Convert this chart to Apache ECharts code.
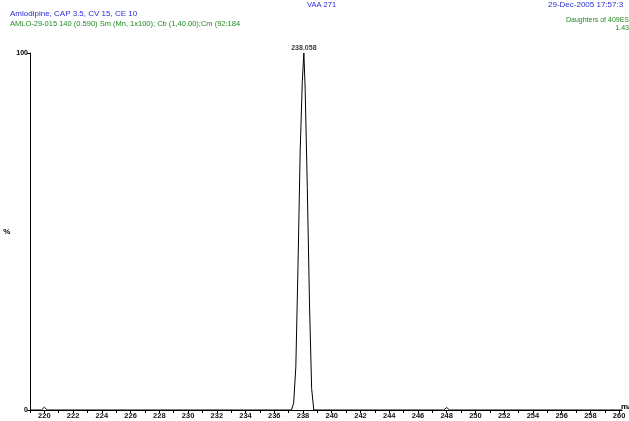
<!DOCTYPE html>
<html><head><meta charset="utf-8">
<script src="https://cdn.jsdelivr.net/npm/echarts@6/dist/echarts.min.js"></script>
<style>html,body{margin:0;padding:0;background:#fff}#c{width:629px;height:421px}</style>
</head><body><div id="c"></div>
<script>
// m/z values and relative intensities (%)
const mz = [219.0, 219.8, 219.9, 220.0, 220.1, 220.2, 237.2, 237.35, 237.5, 237.65, 237.8, 237.95, 238.06, 238.15, 238.3, 238.45, 238.6, 238.75, 247.8, 247.9, 248.0, 248.1, 248.2, 260.2];
const intensity = [0, 0, 0.4, 0.8, 0.4, 0, 0, 2, 12, 40, 72, 92, 100, 90, 62, 30, 6, 0, 0, 0.4, 0.7, 0.4, 0, 0];
const peakMz = [238.06];
const peakIntensity = [100];
const peakLabels = ['238.058'];
const xTickValues = [];
for (let v = 219; v <= 260; v++) xTickValues.push(v);
const xLabelValues = [220, 222, 224, 226, 228, 230, 232, 234, 236, 238, 240, 242, 244, 246, 248, 250, 252, 254, 256, 258, 260];
const yLabelValues = [0, 100];

const blue = '#2a2ad8', green = '#1f8a1f';
const F = 'Liberation Sans';
const t = (text, pos, size, color, weight) => Object.assign({text, padding: 0, textStyle: {fontSize: size, color, fontWeight: weight || 'normal', fontFamily: F}}, pos);

const chart = echarts.init(document.getElementById('c'), null, {renderer: 'canvas'});
chart.setOption({
  animation: false,
  backgroundColor: '#fff',
  textStyle: {fontFamily: F},
  title: [
    t('VAA 271', {left: 307, top: 1}, 7.5, blue),
    t('29-Dec-2005 17:57:3', {left: 548, top: 1}, 8, blue),
    t('Amlodipine, CAP 3.5, CV 15, CE 10', {left: 10, top: 10}, 8, blue),
    t('AMLO-29-015 140 (0.590) Sm (Mn, 1x100); Cb (1,40.00);Cm (92:184', {left: 10, top: 20}, 7.5, green),
    t('Daughters of 409ES', {right: 0, top: 17}, 7, green),
    t('1.43', {right: 0, top: 25}, 7, green),
    t('m/', {left: 621, top: 403}, 8, '#000', 'bold')
  ],
  grid: {left: 30, right: 7, top: 53, bottom: 11, containLabel: false},
  xAxis: {
    type: 'value', min: 219, max: 260.2,
    axisLine: {show: true, lineStyle: {color: '#000', width: 1}},
    axisTick: {show: true, length: 3, customValues: xTickValues, lineStyle: {color: '#000'}},
    axisLabel: {show: true, customValues: xLabelValues, fontSize: 7.5, fontWeight: 'bold', color: '#111', margin: 2, fontFamily: F},
    splitLine: {show: false}
  },
  yAxis: {
    type: 'value', min: 0, max: 100,
    name: '%', nameLocation: 'middle', nameRotate: 0, nameGap: 7,
    nameTextStyle: {fontSize: 8, fontWeight: 'bold', color: '#000'},
    axisLine: {show: true, lineStyle: {color: '#000', width: 1}},
    axisTick: {show: true, length: 3, customValues: yLabelValues, lineStyle: {color: '#000'}},
    axisLabel: {show: true, customValues: yLabelValues, fontSize: 7, fontWeight: 'bold', color: '#000', margin: 2, fontFamily: F},
    splitLine: {show: false}
  },
  series: [{
    type: 'line', data: mz.map((x, i) => [x, intensity[i]]), showSymbol: false, symbol: 'none',
    lineStyle: {color: '#000', width: 1}, silent: true
  }, {
    type: 'scatter', symbolSize: 1, itemStyle: {color: 'rgba(0,0,0,0)'}, silent: true,
    data: peakMz.map((x, i) => ({value: [x, peakIntensity[i]], name: peakLabels[i]})),
    label: {show: true, position: 'top', distance: 1, formatter: p => p.name, fontSize: 7, fontWeight: 'bold', color: '#000', fontFamily: F}
  }]
});
</script></body></html>
